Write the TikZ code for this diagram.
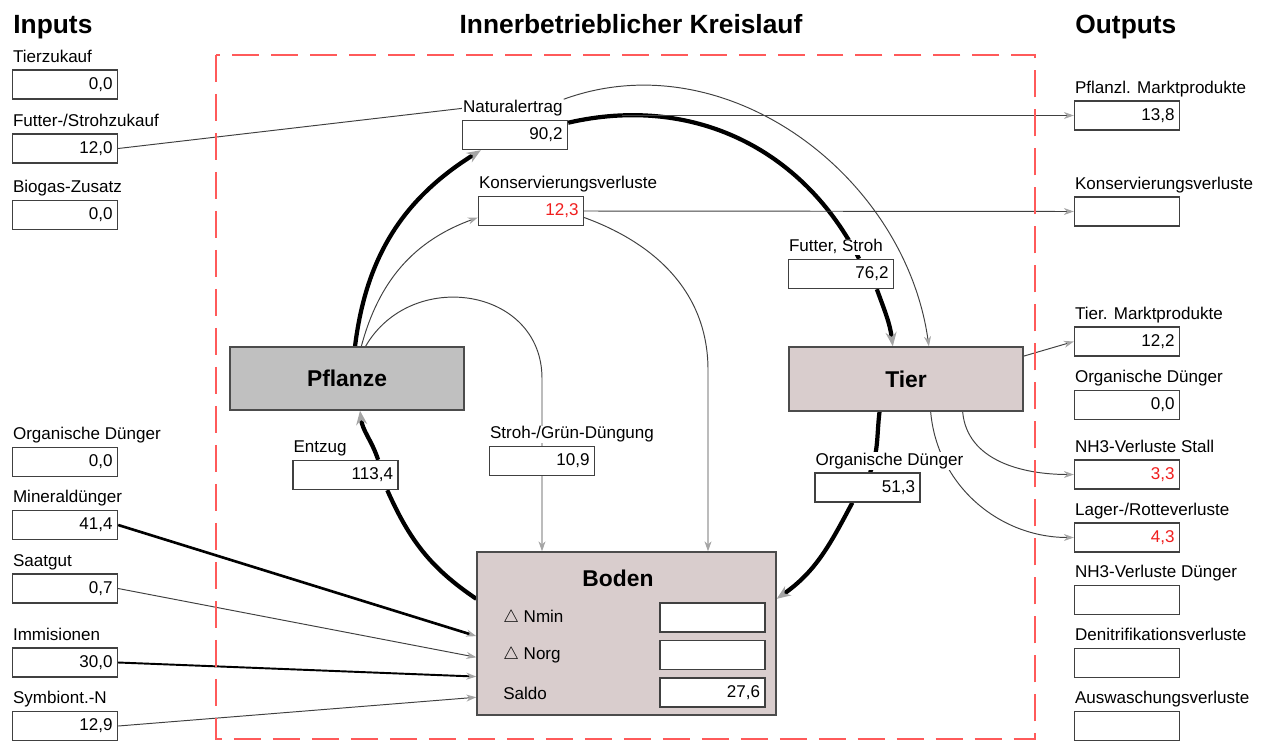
\documentclass[tikz,border=0pt]{standalone}
\usepackage{fontspec}
\setmainfont{Liberation Sans}
\usepackage{tikz}
\usetikzlibrary{arrows.meta,backgrounds,calc}

\definecolor{frameRed}{RGB}{255,90,90}
\definecolor{bodenFill}{RGB}{217,205,205}
\definecolor{pflanzeFill}{RGB}{192,192,192}
\definecolor{tipGray}{RGB}{165,165,165}
\definecolor{valRed}{RGB}{240,30,30}

\begin{document}
\begin{tikzpicture}[
    x=0.02cm, y=0.02cm,
    title/.style={font=\fontsize{15}{18}\selectfont\bfseries, inner sep=0pt, anchor=base west},
    lbl/.style={font=\fontsize{9.7}{11}\selectfont, fill=white, inner sep=0.5pt, anchor=base west},
    rowlbl/.style={font=\fontsize{9.7}{11}\selectfont, inner sep=0pt, anchor=west},
    valbox/.style={rectangle, draw=black!75, line width=0.8pt, fill=white, minimum width=2.1cm, minimum height=0.58cm,
        text width=1.9cm, align=right, inner xsep=0.1cm, inner ysep=0pt, font=\fontsize{9.7}{11}\selectfont},
    bigbox/.style={rectangle, draw=black!70, line width=0.8pt, font=\fontsize{13}{15}\selectfont\bfseries},
    flow/.style={line width=2.4pt},
    flowarrow/.style={flow, -{Stealth[length=0.28cm, width=0.22cm, color=tipGray]}},
    link/.style={draw=black!75, line width=0.55pt},
    linkarrow/.style={link, -{Stealth[length=0.2cm, width=0.14cm, color=tipGray]}}
]
    \useasboundingbox (0,0) rectangle (1266,-740);

    % titles and frame
    \node[title] (tIn) at (13,-34) {Inputs};
    \node[title, anchor=base] (tKreis) at (631,-34) {Innerbetrieblicher Kreislauf};
    \node[title] (tOut) at (1075,-34) {Outputs};
    \draw[frameRed, line width=0.9pt, dash pattern=on 0.54cm off 0.24cm] (216,-55) rectangle (1035,-739);

    % inputs
    \node[valbox] (inTier) at (65,-84.5) {0,0};
    \node[lbl] (lTier) at ([yshift=0.14cm]inTier.north west) {Tierzukauf};
    \node[valbox] (inFutter) at (65,-148.5) {12,0};
    \node[lbl] (lFutter) at ([yshift=0.14cm]inFutter.north west) {Futter-/Strohzukauf};
    \node[valbox] (inBiogas) at (65,-215) {0,0};
    \node[lbl] (lBiogas) at ([yshift=0.14cm]inBiogas.north west) {Biogas-Zusatz};
    \node[valbox] (inOrg) at (65,-462) {0,0};
    \node[lbl] (lOrg) at ([yshift=0.14cm]inOrg.north west) {Organische Dünger};
    \node[valbox] (inMin) at (65,-525) {41,4};
    \node[lbl] (lMin) at ([yshift=0.14cm]inMin.north west) {Mineraldünger};
    \node[valbox] (inSaat) at (65,-588.5) {0,7};
    \node[lbl] (lSaat) at ([yshift=0.14cm]inSaat.north west) {Saatgut};
    \node[valbox] (inImm) at (65,-662.5) {30,0};
    \node[lbl] (lImm) at ([yshift=0.14cm]inImm.north west) {Immisionen};
    \node[valbox] (inSym) at (65,-726) {12,9};
    \node[lbl] (lSym) at ([yshift=0.14cm]inSym.north west) {Symbiont.-N};

    % cycle
    \node[valbox] (nat) at (515,-135) {90,2};
    \node[lbl] (lNat) at ([yshift=0.14cm]nat.north west) {Naturalertrag};
    \node[valbox] (kons) at (531,-211) {\textcolor{valRed}{12,3}};
    \node[lbl] (lKons) at ([yshift=0.14cm]kons.north west) {Konservierungsverluste};
    \node[valbox] (futter) at (841,-274) {76,2};
    \node[lbl] (lFutterC) at ([yshift=0.14cm]futter.north west) {Futter, Stroh};
    \node[bigbox, fill=pflanzeFill, minimum width=4.68cm, minimum height=1.26cm] (pflanze) at (347,-378.5) {Pflanze};
    \node[bigbox, fill=bodenFill, minimum width=4.68cm, minimum height=1.28cm] (tier) at (906,-379) {Tier};
    \node[valbox] (entzug) at (345.5,-475) {113,4};
    \node[lbl] (lEntzug) at ([yshift=0.14cm]entzug.north west) {Entzug};
    \node[valbox] (stroh) at (542,-461) {10,9};
    \node[lbl] (lStroh) at ([yshift=0.14cm]stroh.north west) {Stroh-/Grün-Düngung};
    \node[valbox] (orgC) at (867.5,-487.5) {51,3};
    \node[lbl] (lOrgC) at ([yshift=0.14cm]orgC.north west) {Organische Dünger};

    % soil
    \node[bigbox, fill=bodenFill, minimum width=5.98cm, minimum height=3.26cm] (boden) at (626.5,-633.5) {};
    \node[font=\fontsize{13}{15}\selectfont\bfseries, inner sep=0pt] (bodenT) at (618,-578) {Boden};
    \node[valbox] (nmin) at (712.5,-617.5) {};
    \node[valbox] (norg) at (712.5,-655) {};
    \node[valbox] (saldo) at (712.5,-692.5) {27,6};
    \node[rowlbl] (lNmin) at (503,-618) {$\triangle$ Nmin};
    \node[rowlbl] (lNorg) at (503,-655) {$\triangle$ Norg};
    \node[rowlbl] (lSaldo) at (503,-693) {Saldo};

    % outputs
    \node[valbox] (outPfl) at (1127,-115.5) {13,8};
    \node[lbl] (lPfl) at ([yshift=0.14cm]outPfl.north west) {Pflanzl. Marktprodukte};
    \node[valbox] (outKons) at (1127,-211.5) {};
    \node[lbl] (lOutKons) at ([yshift=0.14cm]outKons.north west) {Konservierungsverluste};
    \node[valbox] (outTierM) at (1127,-341.5) {12,2};
    \node[lbl] (lTierM) at ([yshift=0.14cm]outTierM.north west) {Tier. Marktprodukte};
    \node[valbox] (outOrg) at (1127,-405) {0,0};
    \node[lbl] (lOutOrg) at ([yshift=0.14cm]outOrg.north west) {Organische Dünger};
    \node[valbox] (outNHS) at (1127,-474.5) {\textcolor{valRed}{3,3}};
    \node[lbl] (lNHS) at ([yshift=0.14cm]outNHS.north west) {NH3-Verluste Stall};
    \node[valbox] (outLager) at (1127,-537.5) {\textcolor{valRed}{4,3}};
    \node[lbl] (lLager) at ([yshift=0.14cm]outLager.north west) {Lager-/Rotteverluste};
    \node[valbox] (outNHD) at (1127,-600) {};
    \node[lbl] (lNHD) at ([yshift=0.14cm]outNHD.north west) {NH3-Verluste Dünger};
    \node[valbox] (outDeni) at (1127,-663) {};
    \node[lbl] (lDeni) at ([yshift=0.14cm]outDeni.north west) {Denitrifikationsverluste};
    \node[valbox] (outAus) at (1127,-726) {};
    \node[lbl] (lAus) at ([yshift=0.14cm]outAus.north west) {Auswaschungsverluste};

    \coordinate (natTop) at (622,-115.5);
    \coordinate (kdrop) at (708,-370);

    \begin{scope}[on background layer]
    % main cycle
    \draw[flowarrow] (pflanze.76) to[out=83, in=212] (nat.204);
    \draw[flow] (nat.13) to[out=13, in=117] (futter.40);
    \draw[flowarrow] (futter.-23) to[out=-70, in=97] (tier.112);
    \draw[flow] (tier.231) to[out=-97, in=69] (orgC.80);
    \draw[flowarrow] (orgC.225) to[out=-118, in=35] (boden.13);
    \draw[flow] (boden.167) to[out=146, in=294] (entzug.-20);
    \draw[flowarrow] (entzug.25) to[out=108, in=277] (pflanze.-68);

    % thin flows
    \draw[link] (inFutter.east) -- (lNat.west);
    \draw[linkarrow] (lNat.north east) to[out=20, in=98] (tier.55);
    \draw[linkarrow] (pflanze.66) to[out=75, in=200] (kons.187);
    \draw[linkarrow] (pflanze.60) to[out=60, in=90, looseness=1.3] (stroh.north |- pflanze.east) -- (stroh.north |- boden.north);
    \draw[linkarrow] (kons.-7) to[out=-20, in=90] (kdrop) -- (kdrop |- boden.north);
    \draw[linkarrow] (natTop) -- (outPfl.west);
    \draw[linkarrow] (kons.east) -- (outKons.west);
    \draw[linkarrow] (tier.11) -- (outTierM.west);
    \draw[linkarrow] (tier.-30) to[out=-85, in=180] (outNHS.west);
    \draw[linkarrow] (tier.-53) to[out=-85, in=180] (outLager.west);

    % inputs to soil
    \draw[linkarrow, draw=black, line width=1.5pt] (inMin.east) -- (boden.181);
    \draw[linkarrow] (inSaat.east) -- (boden.189);
    \draw[linkarrow, draw=black, line width=1.1pt] (inImm.east) -- (boden.196);
    \draw[linkarrow] (inSym.east) -- (boden.203);
    \end{scope}
\end{tikzpicture}
\end{document}
